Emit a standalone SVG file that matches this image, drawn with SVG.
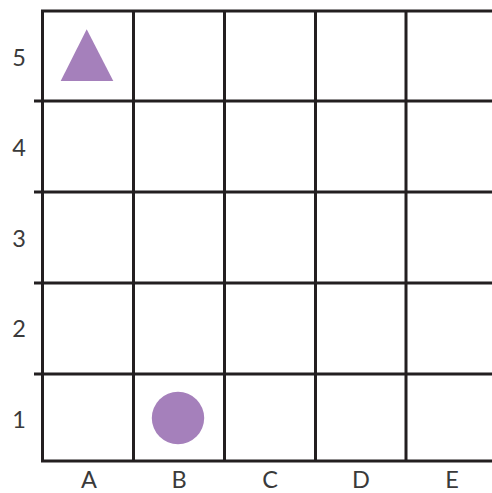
<svg xmlns="http://www.w3.org/2000/svg" width="492" height="493" viewBox="0 0 492 493">
<style>
.g{stroke:#231f20;stroke-width:3;fill:none}
.lbl{font-family:Lato,"Liberation Sans",sans-serif;font-size:23.5px;fill:#3a3a3a;text-anchor:middle}
.shape{fill:#a580bb}
</style>
<rect width="492" height="493" fill="#fff"/>
<g id="connectors">
<g id="grid">
<path class="g" d="M42.5 11V461M133.5 11V461M224.5 11V461M315.5 11V461M406 11V461"/>
<path class="g" d="M41 11H492M34 101H492M34 192H492M34 283H492M34 374H492M41 461H492"/>
</g>
</g>
<g id="row-labels">
<text class="lbl" x="19" y="65.5">5</text>
<text class="lbl" x="19" y="155.5">4</text>
<text class="lbl" x="19" y="246.5">3</text>
<text class="lbl" x="19" y="336.5">2</text>
<text class="lbl" x="19" y="427.5">1</text>
</g>
<g id="col-labels">
<text class="lbl" x="89" y="487.5">A</text>
<text class="lbl" x="179" y="487.5">B</text>
<text class="lbl" x="270" y="487.5">C</text>
<text class="lbl" x="361" y="487.5">D</text>
<text class="lbl" x="452" y="487.5">E</text>
</g>
<g id="triangle">
<polygon class="shape" points="86.7,29.3 113.3,81 60.7,81"/>
</g>
<g id="circle">
<circle class="shape" cx="178" cy="418" r="26.2"/>
</g>
</svg>
